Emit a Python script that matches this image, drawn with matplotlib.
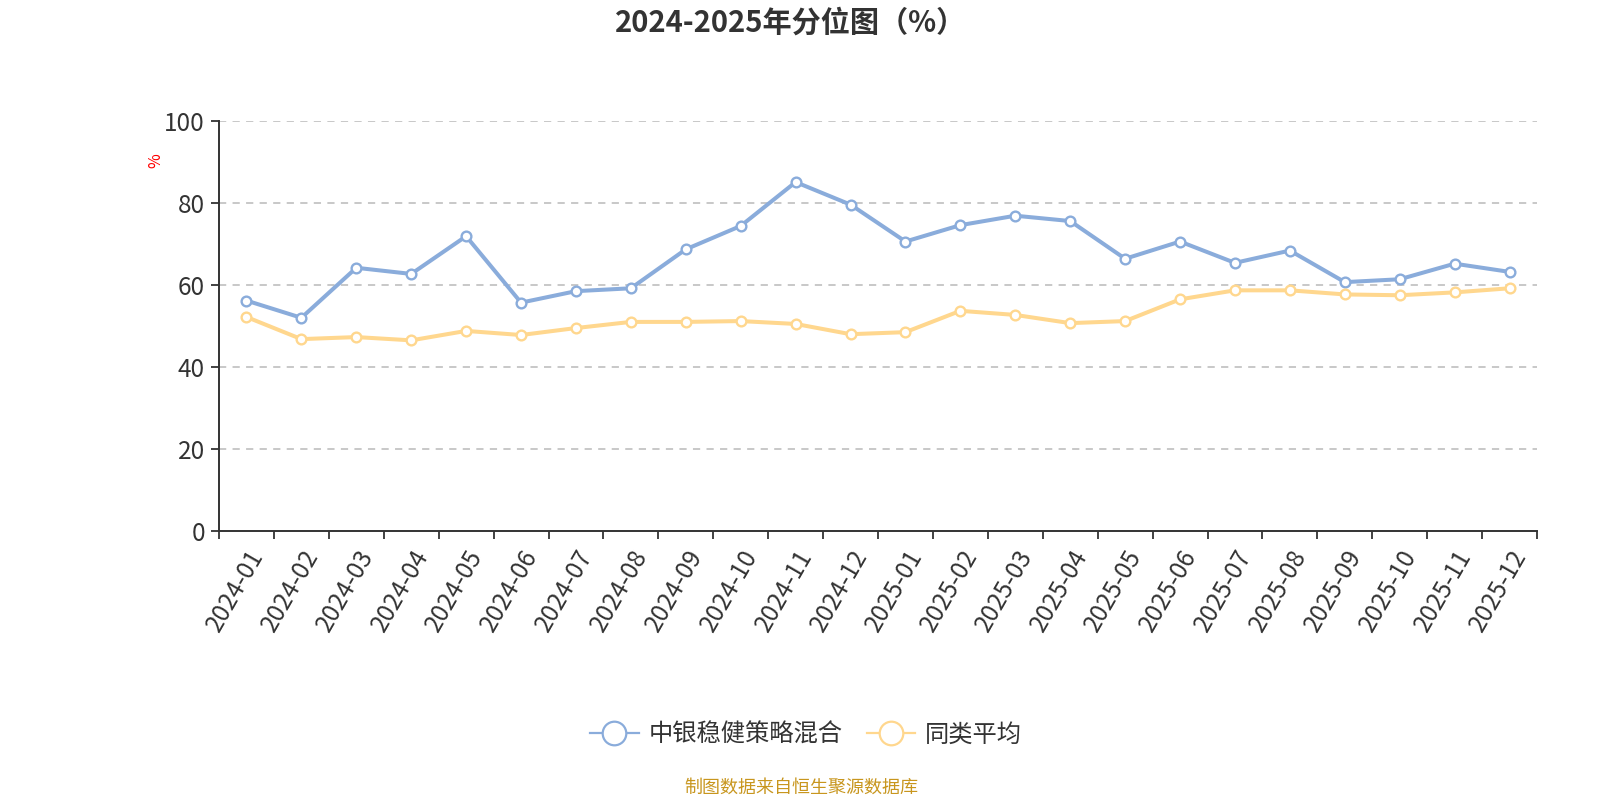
import matplotlib
matplotlib.use("Agg")
import matplotlib.pyplot as plt
from matplotlib.lines import Line2D
import numpy as np

plt.rcParams['font.family'] = ['Noto Sans CJK SC', 'DejaVu Sans']

months = ["2024-01", "2024-02", "2024-03", "2024-04", "2024-05", "2024-06",
          "2024-07", "2024-08", "2024-09", "2024-10", "2024-11", "2024-12",
          "2025-01", "2025-02", "2025-03", "2025-04", "2025-05", "2025-06",
          "2025-07", "2025-08", "2025-09", "2025-10", "2025-11", "2025-12"]
fund = [56.2, 52.0, 64.2, 62.7, 71.9, 55.7, 58.5, 59.2, 68.7, 74.4, 85.1, 79.6,
        70.6, 74.6, 76.9, 75.6, 66.4, 70.6, 65.4, 68.4, 60.7, 61.4, 65.2, 63.2]
peer = [52.2, 46.8, 47.3, 46.5, 48.8, 47.8, 49.5, 51.0, 51.0, 51.2, 50.5, 48.0,
        48.5, 53.7, 52.7, 50.7, 51.2, 56.5, 58.7, 58.7, 57.7, 57.5, 58.2, 59.2]
yticks = [0, 20, 40, 60, 80, 100]
series_names = ["中银稳健策略混合", "同类平均"]
title = "2024-2025年分位图（%）"
source = "制图数据来自恒生聚源数据库"

c_blue = "#8aacdb"
c_orange = "#ffd78e"

W, H = 1600, 800
fig = plt.figure(figsize=(16, 8), dpi=100)
L, R, T, B = 219, 1537, 121, 531
ax = fig.add_axes([L/W, 1-B/H, (R-L)/W, (B-T)/H])

x = np.arange(len(months))
for vals, col in [(fund, c_blue), (peer, c_orange)]:
    ax.plot(x, vals, color=col, lw=2.9, marker='o', ms=7,
            mfc='white', mec=col, mew=1.7, zorder=3)

ax.set_xlim(-0.5, len(months) - 0.5)
ax.set_ylim(0, 100)
ax.set_yticks(yticks)
ax.set_yticklabels([str(v) for v in yticks], fontsize=17.5, color='#333333')
for v in yticks[1:]:
    ax.axhline(v, color='#c4c4c4', lw=1.3, ls=(0, (4, 3.5)), zorder=1)

ax.set_xticks(x)
ax.set_xticklabels(months, rotation=60, ha='right', va='top',
                   rotation_mode='anchor', fontsize=17.5, color='#333333')
ax.tick_params(axis='x', which='major', length=0, pad=10)
ax.set_xticks(np.arange(-0.5, len(months), 1), minor=True)
ax.tick_params(axis='x', which='minor', length=6, width=1.3, color='#333333')
ax.tick_params(axis='y', length=6, width=1.3, color='#333333', pad=4)

for s in ['top', 'right']:
    ax.spines[s].set_visible(False)
for s in ['left', 'bottom']:
    ax.spines[s].set_color('#333333')
    ax.spines[s].set_linewidth(1.4)

fig.text(156/W, 1-161/H, '%', color='red', fontsize=11.5, rotation=90,
         ha='center', va='center')

fig.text(791/W, 1-23/H, title, fontsize=21, fontweight='bold',
         color='#333333', ha='center', va='center')

handles = [Line2D([0], [0], color=c, lw=1.6, marker='o', ms=17,
                  mfc='white', mec=c, mew=1.6) for c in (c_blue, c_orange)]
fig.legend(handles, series_names, loc='center', bbox_to_anchor=(806/W, 1-735/H),
           ncol=2, frameon=False, fontsize=17.5, handlelength=2.0,
           columnspacing=1.0, handletextpad=0.4, labelcolor='#333333')

fig.text(801/W, 1-788/H, source, fontsize=13, color='#c8961e',
         ha='center', va='center')

fig.savefig("out.png", dpi=100)
